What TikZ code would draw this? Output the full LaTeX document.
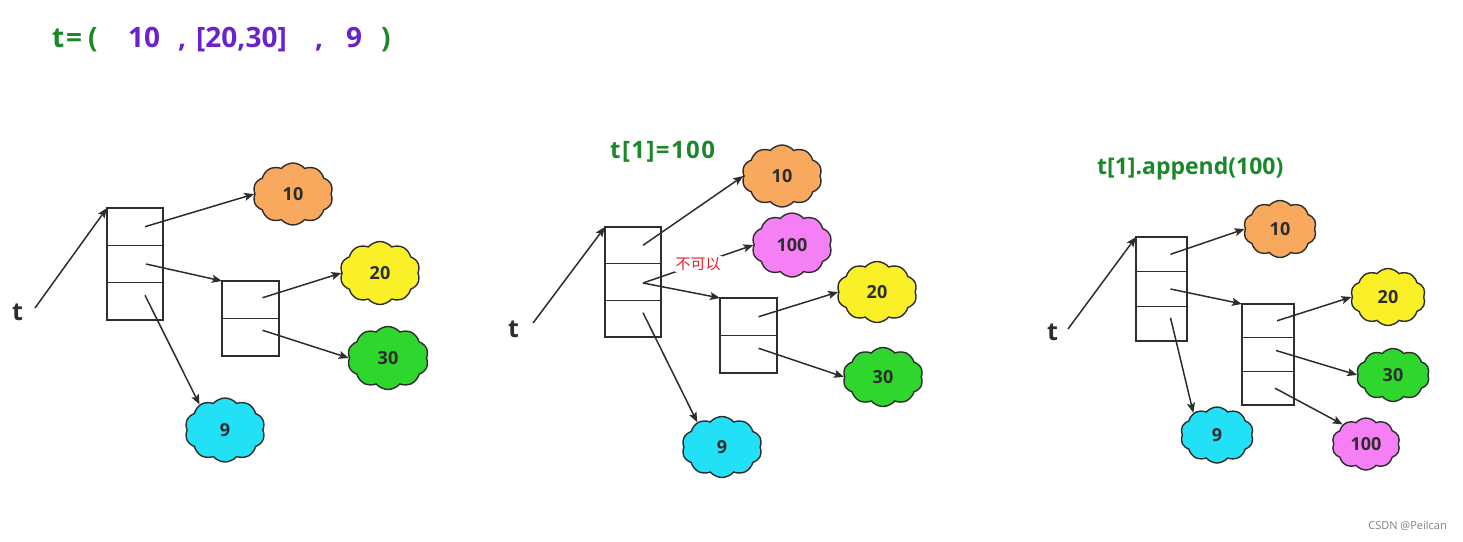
\documentclass[tikz,border=0pt]{standalone}
\usepackage{fontspec}
\setmainfont{Open Sans}
\newfontfamily\cjk{Noto Sans CJK SC}
\usetikzlibrary{shapes.symbols,arrows.meta}
\definecolor{tgreen}{RGB}{26,135,40}
\definecolor{tpurple}{RGB}{106,34,204}
\definecolor{corange}{RGB}{248,169,94}
\definecolor{cyellow}{RGB}{250,240,40}
\definecolor{cgreen}{RGB}{46,214,46}
\definecolor{ccyan}{RGB}{34,224,245}
\definecolor{cpink}{RGB}{245,128,245}
\definecolor{cred}{RGB}{232,32,42}
\definecolor{ink}{RGB}{45,45,45}
\begin{document}
\begin{tikzpicture}[x=1pt,y=-1pt,
  arr/.style={draw=ink, line width=1.5pt, -{Stealth[length=10pt,width=8pt,inset=2pt]}},
  cell/.style 2 args={draw=ink, line width=1.5pt, minimum width=#1, minimum height=#2, inner sep=0pt, outer sep=0pt},
  cl/.style 2 args={cloud, cloud puffs=10, cloud puff arc=100, cloud ignores aspect, draw=ink, line width=1.4pt,
     minimum width=#1, minimum height=#2, inner sep=0pt, font=\fontsize{18}{18}\selectfont\bfseries, text=ink},
  tl/.style={anchor=base west, inner sep=0pt, font=\fontsize{25}{25}\selectfont\bfseries, text=ink},
  ttl/.style={anchor=base west, inner sep=0pt, font=\fontsize{28}{28}\selectfont\bfseries},
  sub/.style={anchor=base west, inner sep=0pt, font=\fontsize{23}{23}\selectfont\bfseries, text=tgreen}
]
\useasboundingbox (0,0) rectangle (1463,541);

% ---------- title ----------
\node[ttl, text=tgreen]  (h1a) at (52,47)  {t};
\node[ttl, text=tgreen]  (h1b) at (66,47)  {=};
\node[ttl, text=tgreen]  (h1c) at (88,47)  {(};
\node[ttl, text=tpurple] (h2) at (128,47) {10};
\node[ttl, text=tpurple] (h3) at (178,47) {,};
\node[ttl, text=tpurple] (h4) at (196,47) {[20,30]};
\node[ttl, text=tpurple] (h5) at (315,47) {,};
\node[ttl, text=tpurple] (h6) at (346,47) {9};
\node[ttl, text=tgreen]  (h7) at (381,47) {)};

% ---------- diagram 1 ----------
\node[tl] (t1) at (12,320) {t};
\coordinate (s1) at (35,308);
\node[cell={56}{37.3}] (a1) at (135,226.7) {};
\node[cell={56}{37.3}] (a2) at (135,264) {};
\node[cell={56}{37.3}] (a3) at (135,301.3) {};
\node[cell={57}{37.5}] (b1) at (250.5,299.75) {};
\node[cell={57}{37.5}] (b2) at (250.5,337.25) {};
\node[cl={80}{62}, fill=corange] (c10) at (293,194) {10};
\node[cl={80}{63}, fill=cyellow] (c20) at (380,273) {20};
\node[cl={81}{63}, fill=cgreen]  (c30) at (388,358) {30};
\node[cl={80}{64}, fill=ccyan]   (c9)  at (225,430) {9};
\draw[arr] (s1) -- (a1.north west);
\draw[arr] ([shift={(10,0)}]a1.center) -- (c10.west);
\draw[arr] ([shift={(11,0)}]a2.center) -- (b1.north west);
\draw[arr] ([shift={(10,-6)}]a3.center) -- (c9.135);
\draw[arr] ([shift={(12,-2)}]b1.center) -- (c20.west);
\draw[arr] ([shift={(12,-7)}]b2.center) -- (c30.west);

% ---------- diagram 2 ----------
\node[sub, font=\fontsize{24}{24}\selectfont\bfseries\addfontfeature{LetterSpace=6}] (st2) at (610,158) {t[1]=100};
\node[tl] (t2) at (508,337) {t};
\coordinate (s2) at (533,323);
\node[cell={56}{36.7}] (d1) at (633,245.3) {};
\node[cell={56}{36.7}] (d2) at (633,282) {};
\node[cell={56}{36.7}] (d3) at (633,318.7) {};
\node[cell={57}{37.5}] (e1) at (748.5,316.75) {};
\node[cell={57}{37.5}] (e2) at (748.5,354.25) {};
\node[cl={80}{62}, fill=corange] (f10)  at (782,176) {10};
\node[cl={80}{64}, fill=cpink]   (f100) at (792,245) {100};
\node[cl={80}{61}, fill=cyellow] (f20)  at (877,292) {20};
\node[cl={80}{59}, fill=cgreen]  (f30)  at (883,377) {30};
\node[cl={80}{61}, fill=ccyan]   (f9)   at (722,447) {9};
\draw[arr] (s2) -- (d1.north west);
\draw[arr] ([shift={(10,0)}]d1.center) -- (f10.west);
\draw[arr] ([shift={(10,1)}]d2.center) -- node[pos=0.5, fill=white, inner sep=1pt, text=cred, font=\cjk\fontsize{15}{15}\selectfont] (no) {不可以} (f100.west);
\draw[arr] ([shift={(10,1)}]d2.center) -- (e1.north west);
\draw[arr] ([shift={(10,-6)}]d3.center) -- (f9.135);
\draw[arr] ([shift={(10,0)}]e1.center) -- (f20.west);
\draw[arr] ([shift={(10,-6)}]e2.center) -- (f30.west);

% ---------- diagram 3 ----------
\node[sub] (st3) at (1097,174) {t[1].append(100)};
\node[tl] (t3) at (1047,340) {t};
\coordinate (s3) at (1068,329);
\node[cell={51}{34.7}] (g1) at (1161.5,254.3) {};
\node[cell={51}{34.7}] (g2) at (1161.5,289) {};
\node[cell={51}{34.7}] (g3) at (1161.5,323.7) {};
\node[cell={52}{33.7}] (h1b) at (1268,320.8) {};
\node[cell={52}{33.7}] (h2b) at (1268,354.5) {};
\node[cell={52}{33.7}] (h3b) at (1268,388.2) {};
\node[cl={73}{57}, fill=corange] (k10)  at (1280,229) {10};
\node[cl={75}{57}, fill=cyellow] (k20)  at (1388,297) {20};
\node[cl={73}{53}, fill=cgreen]  (k30)  at (1393,375) {30};
\node[cl={68}{52}, fill=cpink]   (k100) at (1366,444) {100};
\node[cl={73}{56}, fill=ccyan]   (k9)   at (1217,435) {9};
\draw[arr] (s3) -- (g1.north west);
\draw[arr] ([shift={(9,0)}]g1.center) -- (k10.west);
\draw[arr] ([shift={(9,0)}]g2.center) -- (h1b.north west);
\draw[arr] ([shift={(9,-6)}]g3.center) -- (k9.137);
\draw[arr] ([shift={(9,0)}]h1b.center) -- (k20.west);
\draw[arr] ([shift={(8,-4)}]h2b.center) -- (k30.west);
\draw[arr] ([shift={(7,0)}]h3b.center) -- (k100.140);

% watermark
\node[anchor=base east, inner sep=0pt, text=black!50, font=\fontsize{11}{11}\selectfont] (wm) at (1447,529) {CSDN @Peilcan};
\end{tikzpicture}
\end{document}
